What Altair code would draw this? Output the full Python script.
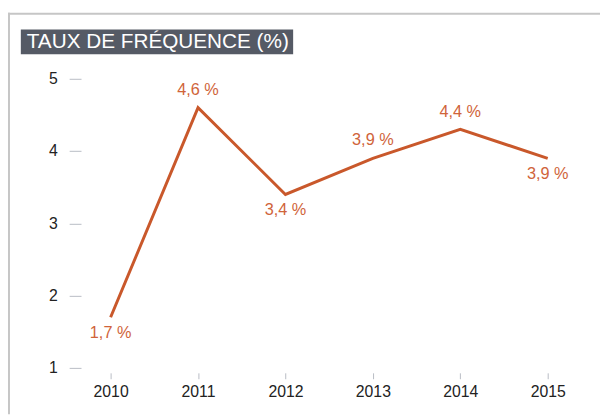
import altair as alt
import pandas as pd

years = ["2010", "2011", "2012", "2013", "2014", "2015"]
values = [1.7, 4.6, 3.4, 3.9, 4.3, 3.9]
labels = ["1,7 %", "4,6 %", "3,4 %", "3,9 %", "4,4 %", "3,9 %"]
label_pos = ["below", "above", "below", "above", "above", "below"]
y_ticks = [1, 2, 3, 4, 5]
title_text = "TAUX DE FRÉQUENCE (%)"

FONT = "Liberation Sans"
LINE = "#c9582b"
LABEL = "#d0643a"

df = pd.DataFrame({"year": years, "value": values, "label": labels, "pos": label_pos})

x = alt.X("year:O", scale=alt.Scale(type="point", padding=0.3386),
          axis=alt.Axis(title=None, labelAngle=0, domain=False, tickSize=6, offset=5,
                        tickColor="#b8bcc4", tickWidth=1, labelColor="#222222",
                        labelFont=FONT, labelFontSize=16, labelPadding=5))
y = alt.Y("value:Q", scale=alt.Scale(domain=[1, 5], nice=False, zero=False),
          axis=alt.Axis(title=None, values=y_ticks, domain=False, grid=False, tickSize=12,
                        tickColor="#b8bcc4", tickWidth=1, labelPadding=12,
                        labelColor="#222222", labelFont=FONT, labelFontSize=16))

base = alt.Chart(df)
line = base.mark_line(color=LINE, strokeWidth=3, strokeJoin="miter", strokeCap="butt").encode(x=x, y=y)
above = base.transform_filter(alt.datum.pos == "above").mark_text(
    font=FONT, fontSize=16.5, color=LABEL, dy=-18).encode(x=x, y=y, text="label:N")
below = base.transform_filter(alt.datum.pos == "below").mark_text(
    font=FONT, fontSize=16.5, color=LABEL, dy=16).encode(x=x, y=y, text="label:N")

one = alt.Data(values=[{"k": 0}])
frame_top = alt.Chart(one).mark_rule(color="#c6c6c6", strokeWidth=2).encode(
    x=alt.value(-74), x2=alt.value(530), y=alt.value(-66))
frame_left = alt.Chart(one).mark_rule(color="#c6c6c6", strokeWidth=2).encode(
    x=alt.value(-73), y=alt.value(-67), y2=alt.value(340))
title_box = alt.Chart(one).mark_rect(color="#555a65").encode(
    x=alt.value(-61), x2=alt.value(215), y=alt.value(-50), y2=alt.value(-25))
title = alt.Chart(one).mark_text(font=FONT, fontSize=21, color="white", align="left",
                                 baseline="middle").encode(
    x=alt.value(-55), y=alt.value(-37), text=alt.value(title_text))

chart = alt.layer(frame_top, frame_left, title_box, title, line, above, below).properties(
    width=503, height=293,
    autosize=alt.AutoSizeParams(type="none"),
    padding={"left": 74, "top": 69, "right": 23, "bottom": 45},
).configure_view(stroke=None)

chart.save("out.html", embed_options={"renderer": "svg", "actions": False})
